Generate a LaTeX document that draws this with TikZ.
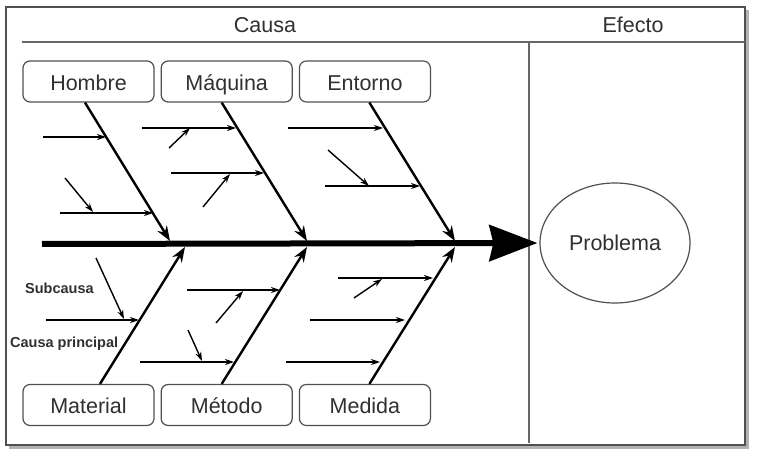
\documentclass[tikz,border=0pt]{standalone}
\usepackage{fontspec}
\setmainfont{Liberation Sans}
\usetikzlibrary{arrows.meta, positioning, shapes.geometric}

\definecolor{borde}{HTML}{505050}
\definecolor{texto}{HTML}{303030}

\tikzset{
    caja/.style={draw=borde, line width=1.2pt, rounded corners=7pt, minimum width=131pt,
        minimum height=41pt, inner sep=0pt, text height=17.5pt, text depth=0pt,
        text=texto, font=\fontsize{21.5}{24}\selectfont},
    hueso/.style={line width=2.4pt, -{Stealth[length=15pt, width=11pt]}},
    sub/.style={line width=1.4pt, -{Stealth[length=9pt, width=6pt]}},
    etiqueta/.style={font=\bfseries\fontsize{14.5}{16}\selectfont, text=texto, inner sep=0pt},
    titulo/.style={font=\fontsize{21.5}{24}\selectfont, text=texto}
}

\begin{document}
\begin{tikzpicture}[x=1pt, y=-1pt, >=Stealth, node distance=6pt]
    \useasboundingbox (0,0) rectangle (757,454);

    % marco y encabezado
    \fill[black!30] (9,10) rectangle (749,449);
    \draw[borde, line width=1.3pt, fill=white] (6,7) rectangle (745,445);
    \draw[black!60, line width=1.8pt] (22,42) -- (745,42);
    \draw[black!60, line width=1.4pt] (529,42) -- (529,443);
    \node[titulo] (causa) at (265,25) {Causa};
    \node[titulo] (efecto) at (633,25) {Efecto};

    % categorias
    \node[caja] (hombre) at (88.5,81.5) {Hombre};
    \node[caja, right=of hombre] (maquina) {Máquina};
    \node[caja, right=of maquina] (entorno) {Entorno};
    \node[caja] (material) at (88.5,405) {Material};
    \node[caja, right=of material] (metodo) {Método};
    \node[caja, right=of metodo] (medida) {Medida};

    \node[draw=borde, line width=1.2pt, ellipse, minimum width=150pt, minimum height=120pt,
        text=texto, font=\fontsize{21.5}{24}\selectfont] (problema) at (615,243) {Problema};

    % espina principal
    \coordinate (cola) at (42,244);
    \draw[line width=6pt, -{Stealth[length=48pt, width=36pt, inset=4pt]}, shorten >=2pt]
        (cola) -- (problema.west);

    % huesos
    \coordinate (j1) at (170,241);
    \coordinate (j2) at (307,241);
    \coordinate (j3) at (455,241);
    \coordinate (j4) at (185,247);
    \coordinate (j5) at (307,247);
    \coordinate (j6) at (455,247);
    \draw[hueso] ([xshift=-3.5pt]hombre.south) -- (j1);
    \draw[hueso] ([xshift=-5pt]maquina.south) -- (j2);
    \draw[hueso] ([xshift=4.5pt]entorno.south) -- (j3);
    \draw[hueso] ([xshift=11.5pt]material.north) -- (j4);
    \draw[hueso] ([xshift=-5pt]metodo.north) -- (j5);
    \draw[hueso] ([xshift=4.5pt]medida.north) -- (j6);

    % causas principales
    \foreach \n/\xa/\xb/\y in {1/43/106/137, 2/60/153/213, 3/142/236/128, 4/171/264/173,
        5/288/383/128, 6/325/420/186, 7/46/139/320, 8/187/280/290, 9/140/234/362,
        10/338/433/278, 11/310/405/320, 12/286/380/362}
    {
        \coordinate (h\n a) at (\xa,\y);
        \coordinate (h\n b) at (\xb,\y);
        \draw[sub] (h\n a) -- (h\n b);
    }

    % subcausas
    \foreach \n/\xa/\ya/\xb/\yb in {1/65/178/93/212, 2/169/148/190/128, 3/203/207/230/174,
        4/328/150/369/186, 5/96/258/124/319, 6/216/323/243/291, 7/188/330/202/361,
        8/354/298/382/279}
    {
        \coordinate (d\n a) at (\xa,\ya);
        \coordinate (d\n b) at (\xb,\yb);
        \draw[sub] (d\n a) -- (d\n b);
    }

    \node[etiqueta, anchor=west] (subcausa) at (25,288) {Subcausa};
    \node[etiqueta, anchor=west] (principal) at (10,344) {Causa principal};
\end{tikzpicture}
\end{document}
